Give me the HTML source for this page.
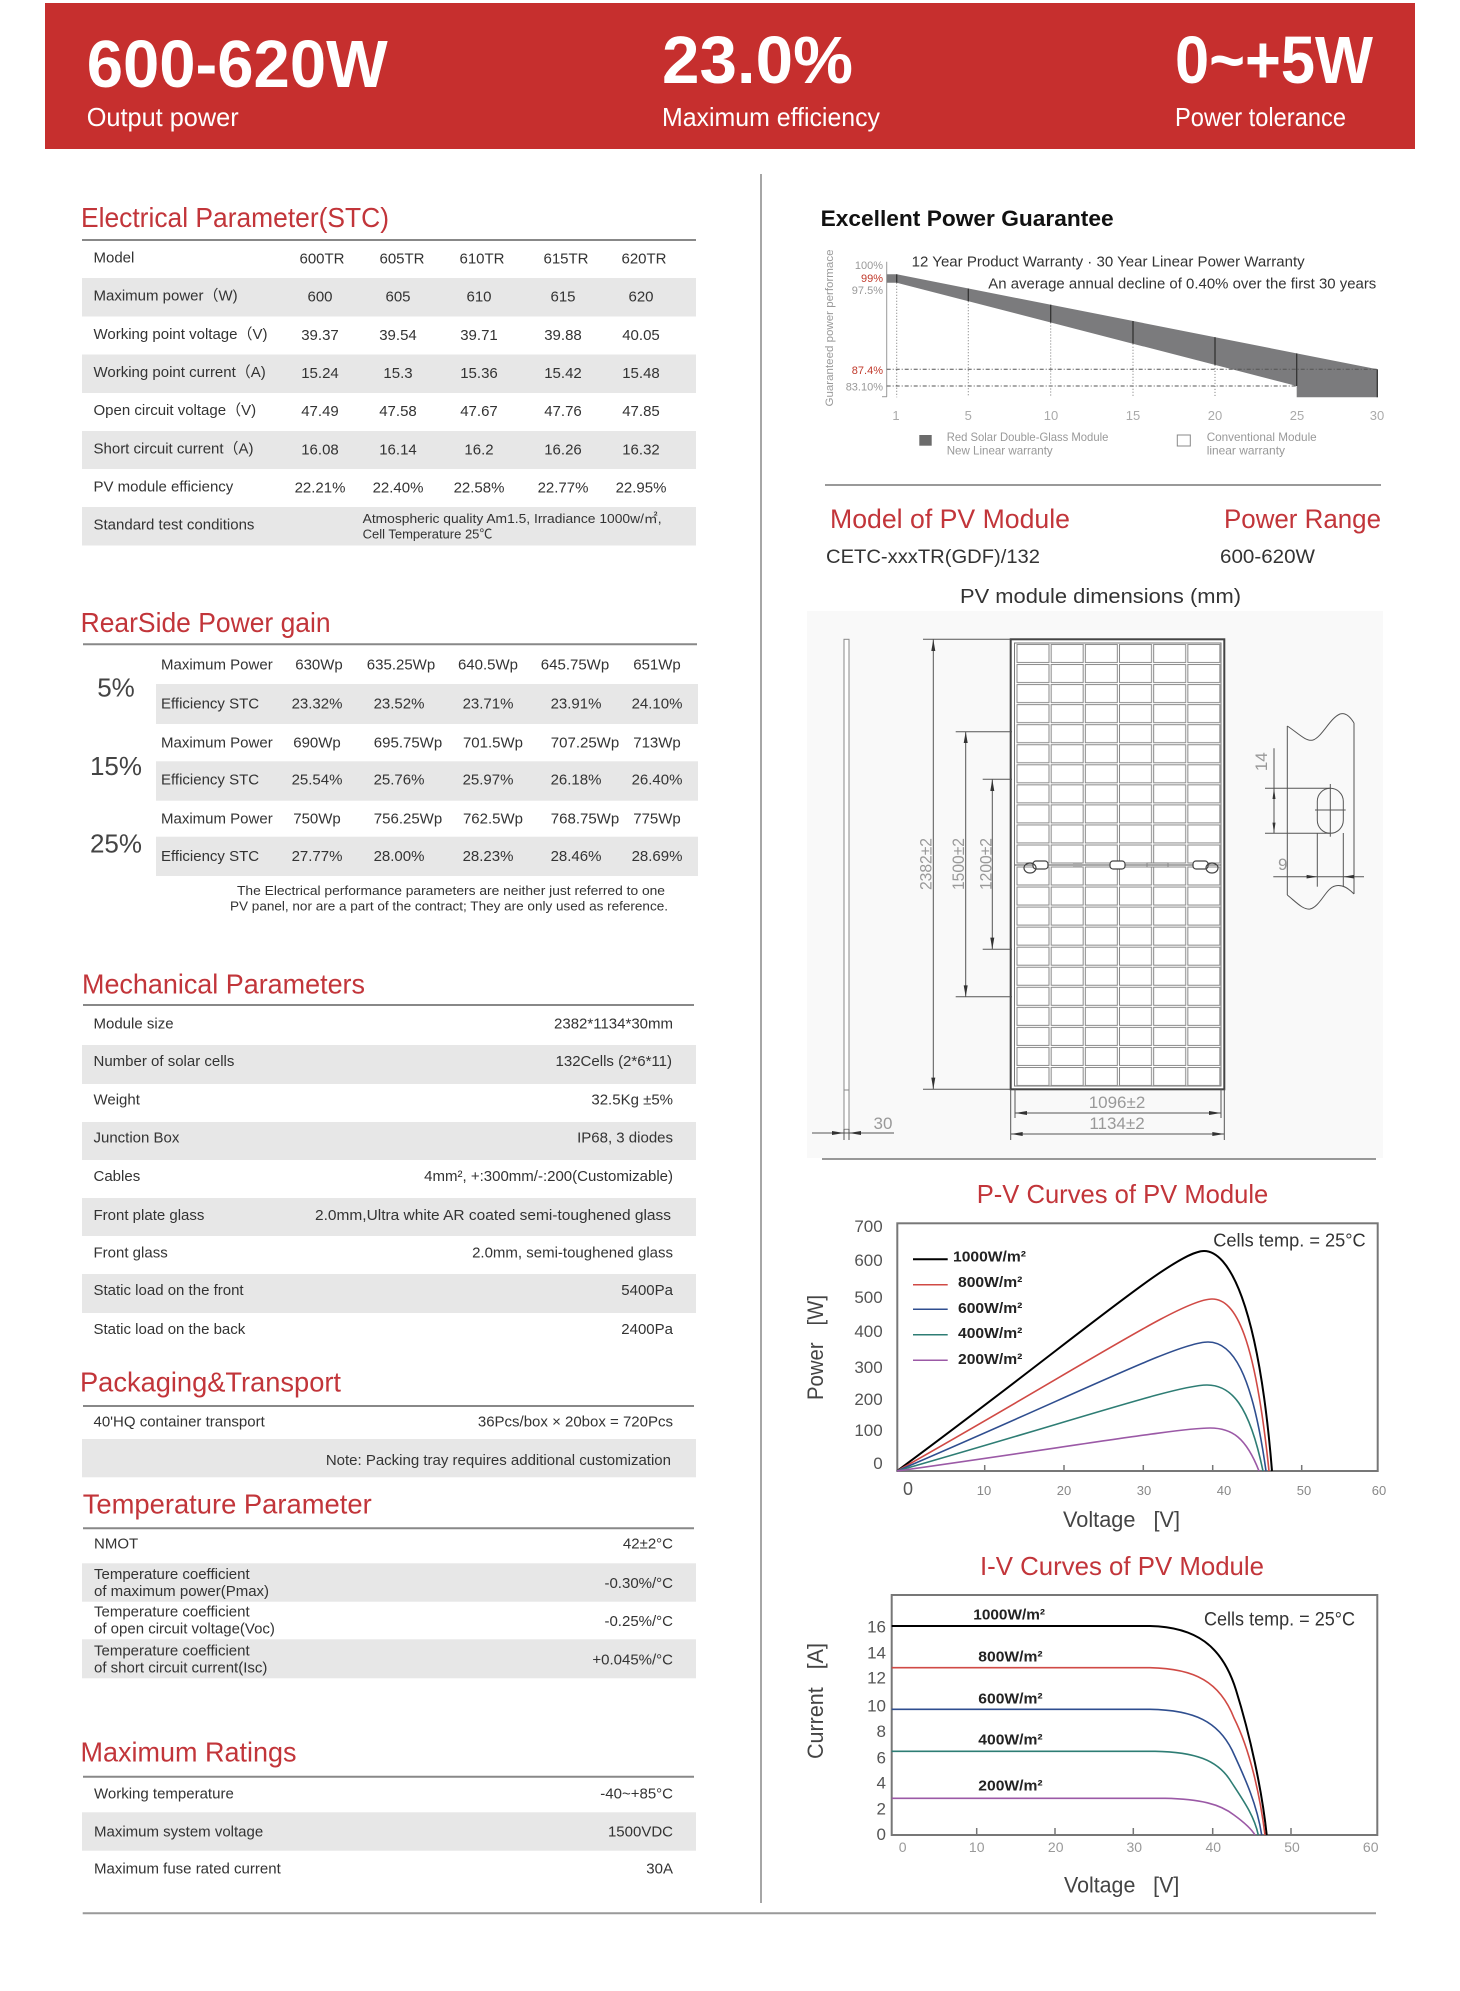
<!DOCTYPE html>
<html>
<head>
<meta charset="utf-8">
<style>
html,body{margin:0;padding:0;background:#fff;}
svg{display:block;}
text{font-family:"Liberation Sans","Noto Sans CJK SC",sans-serif;}
.t{font-size:15px;fill:#333;}
.h{font-size:28px;fill:#c2353a;}
.pc{font-size:26px;fill:#444;}
.yl{font-size:17px;fill:#555;}
.xl{font-size:13px;fill:#888;}
.xs{font-size:14px;fill:#999;font-family:"Liberation Serif",serif;}
.lg{font-size:15px;fill:#222;font-weight:bold;}
.dm{font-size:17px;fill:#999;}
.wy{font-size:11px;fill:#999;}
.wl{font-size:12px;fill:#999;}
</style>
</head>
<body>
<svg xmlns="http://www.w3.org/2000/svg" width="1460" height="1991" viewBox="0 0 1460 1991">
<defs>
<pattern id="cellsA" patternUnits="userSpaceOnUse" x="1016" y="643.5" width="34.17" height="20.05">
<rect x="1" y="1" width="32" height="18" fill="#fff" stroke="#8a8a8a" stroke-width="1"/>
</pattern>
<pattern id="cellsB" patternUnits="userSpaceOnUse" x="1016" y="866" width="34.17" height="20.05">
<rect x="1" y="1" width="32" height="18" fill="#fff" stroke="#8a8a8a" stroke-width="1"/>
</pattern>
</defs>

<!-- Header banner -->
<rect x="45" y="3" width="1370" height="146" fill="#c62f2e"/>
<text x="86.7" y="87" font-size="67" font-weight="bold" fill="#fff" textLength="301" lengthAdjust="spacingAndGlyphs">600-620W</text>
<text x="86.7" y="126" font-size="26" fill="#fff" textLength="152" lengthAdjust="spacingAndGlyphs">Output power</text>
<text x="662" y="83" font-size="67" font-weight="bold" fill="#fff" textLength="191" lengthAdjust="spacingAndGlyphs">23.0%</text>
<text x="662" y="126" font-size="26" fill="#fff" textLength="218" lengthAdjust="spacingAndGlyphs">Maximum efficiency</text>
<text x="1175" y="83" font-size="67" font-weight="bold" fill="#fff" textLength="198" lengthAdjust="spacingAndGlyphs">0~+5W</text>
<text x="1175" y="126" font-size="26" fill="#fff" textLength="171" lengthAdjust="spacingAndGlyphs">Power tolerance</text>

<!-- Vertical divider -->
<line x1="761" y1="174" x2="761" y2="1903" stroke="#888" stroke-width="1.5"/>

<!-- Electrical Parameter -->
<text class="h" x="81" y="227" textLength="308" lengthAdjust="spacingAndGlyphs">Electrical Parameter(STC)</text>
<line x1="82" y1="240" x2="696" y2="240" stroke="#888" stroke-width="2"/>
<rect x="82" y="278" width="614" height="38.5" fill="#e7e7e7"/>
<rect x="82" y="354.5" width="614" height="38.5" fill="#e7e7e7"/>
<rect x="82" y="431" width="614" height="38" fill="#e7e7e7"/>
<rect x="82" y="507" width="614" height="38.5" fill="#e7e7e7"/>
<g class="t">
<text x="93.5" y="262.5">Model</text>
<text x="93.5" y="300.5">Maximum power（W)</text>
<text x="93.5" y="339">Working point voltage（V)</text>
<text x="93.5" y="377">Working point current（A)</text>
<text x="93.5" y="415">Open circuit voltage（V)</text>
<text x="93.5" y="453.5">Short circuit current（A)</text>
<text x="93.5" y="491.5">PV module efficiency</text>
<text x="93.5" y="529.5">Standard test conditions</text>
</g>
<g class="t" text-anchor="middle">
<text x="322" y="263.5">600TR</text><text x="402" y="263.5">605TR</text><text x="482" y="263.5">610TR</text><text x="566" y="263.5">615TR</text><text x="644" y="263.5">620TR</text>
<text x="320" y="301.5">600</text><text x="398" y="301.5">605</text><text x="479" y="301.5">610</text><text x="563" y="301.5">615</text><text x="641" y="301.5">620</text>
<text x="320" y="340">39.37</text><text x="398" y="340">39.54</text><text x="479" y="340">39.71</text><text x="563" y="340">39.88</text><text x="641" y="340">40.05</text>
<text x="320" y="378">15.24</text><text x="398" y="378">15.3</text><text x="479" y="378">15.36</text><text x="563" y="378">15.42</text><text x="641" y="378">15.48</text>
<text x="320" y="416">47.49</text><text x="398" y="416">47.58</text><text x="479" y="416">47.67</text><text x="563" y="416">47.76</text><text x="641" y="416">47.85</text>
<text x="320" y="454.5">16.08</text><text x="398" y="454.5">16.14</text><text x="479" y="454.5">16.2</text><text x="563" y="454.5">16.26</text><text x="641" y="454.5">16.32</text>
<text x="320" y="492.5">22.21%</text><text x="398" y="492.5">22.40%</text><text x="479" y="492.5">22.58%</text><text x="563" y="492.5">22.77%</text><text x="641" y="492.5">22.95%</text>
</g>
<text x="362.6" y="523" font-size="13" fill="#333" textLength="299" lengthAdjust="spacingAndGlyphs">Atmospheric quality Am1.5, Irradiance 1000w/㎡,</text>
<text x="362.6" y="538.6" font-size="13" fill="#333">Cell Temperature 25℃</text>

<!-- RearSide Power gain -->
<text class="h" x="80.6" y="632" textLength="250" lengthAdjust="spacingAndGlyphs">RearSide Power gain</text>
<line x1="83" y1="644.3" x2="697" y2="644.3" stroke="#888" stroke-width="2"/>
<rect x="156" y="684" width="542" height="40" fill="#e7e7e7"/>
<rect x="156" y="761.3" width="542" height="39.4" fill="#e7e7e7"/>
<rect x="156" y="836.7" width="542" height="39.3" fill="#e7e7e7"/>
<g class="pc" text-anchor="middle">
<text x="116" y="696.7">5%</text>
<text x="116" y="775">15%</text>
<text x="116" y="852.3">25%</text>
</g>
<g class="t">
<text x="161" y="669.3">Maximum Power</text>
<text x="161" y="708.3">Efficiency STC</text>
<text x="161" y="747.3">Maximum Power</text>
<text x="161" y="784.3">Efficiency STC</text>
<text x="161" y="823.3">Maximum Power</text>
<text x="161" y="861">Efficiency STC</text>
</g>
<g class="t" text-anchor="middle">
<text x="319" y="669.3">630Wp</text><text x="401" y="669.3">635.25Wp</text><text x="488" y="669.3">640.5Wp</text><text x="575" y="669.3">645.75Wp</text><text x="657" y="669.3">651Wp</text>
<text x="317" y="708.3">23.32%</text><text x="399" y="708.3">23.52%</text><text x="488" y="708.3">23.71%</text><text x="576" y="708.3">23.91%</text><text x="657" y="708.3">24.10%</text>
<text x="317" y="747.3">690Wp</text><text x="408" y="747.3">695.75Wp</text><text x="493" y="747.3">701.5Wp</text><text x="585" y="747.3">707.25Wp</text><text x="657" y="747.3">713Wp</text>
<text x="317" y="784.3">25.54%</text><text x="399" y="784.3">25.76%</text><text x="488" y="784.3">25.97%</text><text x="576" y="784.3">26.18%</text><text x="657" y="784.3">26.40%</text>
<text x="317" y="823.3">750Wp</text><text x="408" y="823.3">756.25Wp</text><text x="493" y="823.3">762.5Wp</text><text x="585" y="823.3">768.75Wp</text><text x="657" y="823.3">775Wp</text>
<text x="317" y="861">27.77%</text><text x="399" y="861">28.00%</text><text x="488" y="861">28.23%</text><text x="576" y="861">28.46%</text><text x="657" y="861">28.69%</text>
</g>
<text x="237" y="895" font-size="13" fill="#333" textLength="428" lengthAdjust="spacingAndGlyphs">The Electrical performance parameters are neither just referred to one</text>
<text x="230" y="910.7" font-size="13" fill="#333" textLength="438" lengthAdjust="spacingAndGlyphs">PV panel, nor are a part of the contract; They are only used as reference.</text>

<!-- Mechanical Parameters -->
<text class="h" x="82" y="993.3" textLength="283" lengthAdjust="spacingAndGlyphs">Mechanical Parameters</text>
<line x1="83" y1="1005" x2="694" y2="1005" stroke="#888" stroke-width="2"/>
<rect x="82" y="1045" width="614" height="39" fill="#e7e7e7"/>
<rect x="82" y="1122" width="614" height="38" fill="#e7e7e7"/>
<rect x="82" y="1198" width="614" height="38" fill="#e7e7e7"/>
<rect x="82" y="1274" width="614" height="39" fill="#e7e7e7"/>
<g class="t">
<text x="93.5" y="1028.3">Module size</text>
<text x="93.5" y="1066">Number of solar cells</text>
<text x="93.5" y="1104.3">Weight</text>
<text x="93.5" y="1142.7">Junction Box</text>
<text x="93.5" y="1181">Cables</text>
<text x="93.5" y="1220">Front plate glass</text>
<text x="93.5" y="1257.7">Front glass</text>
<text x="93.5" y="1295">Static load on the front</text>
<text x="93.5" y="1334">Static load on the back</text>
</g>
<g class="t" text-anchor="end">
<text x="673" y="1028.3">2382*1134*30mm</text>
<text x="672" y="1066">132Cells (2*6*11)</text>
<text x="673" y="1104.3">32.5Kg ±5%</text>
<text x="673" y="1142.7">IP68, 3 diodes</text>
<text x="673" y="1181">4mm², +:300mm/-:200(Customizable)</text>
<text x="671" y="1220" textLength="356" lengthAdjust="spacingAndGlyphs">2.0mm,Ultra white AR coated semi-toughened glass</text>
<text x="673" y="1257.7">2.0mm, semi-toughened glass</text>
<text x="673" y="1295">5400Pa</text>
<text x="673" y="1334">2400Pa</text>
</g>

<!-- Packaging -->
<text class="h" x="80" y="1391.7" textLength="261" lengthAdjust="spacingAndGlyphs">Packaging&amp;Transport</text>
<line x1="83" y1="1406" x2="694" y2="1406" stroke="#888" stroke-width="2"/>
<rect x="82" y="1439" width="614" height="38.3" fill="#e7e7e7"/>
<text class="t" x="93.5" y="1426.7">40'HQ container transport</text>
<text class="t" x="673" y="1426.7" text-anchor="end">36Pcs/box × 20box = 720Pcs</text>
<text class="t" x="671" y="1465" text-anchor="end">Note: Packing tray requires additional customization</text>

<!-- Temperature -->
<text class="h" x="82.7" y="1513.3" textLength="289" lengthAdjust="spacingAndGlyphs">Temperature Parameter</text>
<line x1="83" y1="1528.3" x2="694" y2="1528.3" stroke="#888" stroke-width="2"/>
<rect x="82" y="1563.3" width="614" height="38.4" fill="#e7e7e7"/>
<rect x="82" y="1639.3" width="614" height="39" fill="#e7e7e7"/>
<g class="t">
<text x="94" y="1548.3">NMOT</text>
<text x="94" y="1579">Temperature coefficient</text>
<text x="94" y="1596">of maximum power(Pmax)</text>
<text x="94" y="1616.7">Temperature coefficient</text>
<text x="94" y="1633.3">of open circuit voltage(Voc)</text>
<text x="94" y="1655.7">Temperature coefficient</text>
<text x="94" y="1672.7">of short circuit current(Isc)</text>
</g>
<g class="t" text-anchor="end">
<text x="673" y="1548.3">42±2°C</text>
<text x="673" y="1588">-0.30%/°C</text>
<text x="673" y="1626">-0.25%/°C</text>
<text x="673" y="1664.5">+0.045%/°C</text>
</g>

<!-- Maximum Ratings -->
<text class="h" x="80.5" y="1761.7" textLength="216" lengthAdjust="spacingAndGlyphs">Maximum Ratings</text>
<line x1="83" y1="1776.7" x2="694" y2="1776.7" stroke="#888" stroke-width="2"/>
<rect x="82" y="1812.3" width="614" height="38.4" fill="#e7e7e7"/>
<g class="t">
<text x="94" y="1798.3">Working temperature</text>
<text x="94" y="1836.7">Maximum system voltage</text>
<text x="94" y="1873.3">Maximum fuse rated current</text>
</g>
<g class="t" text-anchor="end">
<text x="673" y="1798.3">-40~+85°C</text>
<text x="673" y="1836.7">1500VDC</text>
<text x="673" y="1873.3">30A</text>
</g>
<line x1="82.7" y1="1913.3" x2="1376" y2="1913.3" stroke="#999" stroke-width="2"/>

<!-- Excellent Power Guarantee -->
<text x="820.6" y="226" font-size="22" font-weight="bold" fill="#111" textLength="293" lengthAdjust="spacingAndGlyphs">Excellent Power Guarantee</text>
<text x="911.7" y="266.7" font-size="15" fill="#333" textLength="393" lengthAdjust="spacingAndGlyphs">12 Year Product Warranty · 30 Year Linear Power Warranty</text>
<text x="988.3" y="288.3" font-size="15" fill="#333" textLength="388" lengthAdjust="spacingAndGlyphs">An average annual decline of 0.40% over the first 30 years</text>
<text class="wy" transform="translate(833,328) rotate(-90)" text-anchor="middle" textLength="157" lengthAdjust="spacingAndGlyphs">Guaranteed power performace</text>
<line x1="886.7" y1="261.7" x2="886.7" y2="396.7" stroke="#999" stroke-width="1"/>
<line x1="882" y1="396.7" x2="887" y2="396.7" stroke="#999" stroke-width="1"/>
<g class="wy" text-anchor="end">
<text x="883" y="269">100%</text>
<text x="883" y="282" fill="#c0392b">99%</text>
<text x="883" y="294">97.5%</text>
<text x="883" y="374" fill="#c0392b">87.4%</text>
<text x="883" y="390.5">83.10%</text>
</g>
<polygon points="886.7,274.3 896.7,274.3 1377.3,369.3 1377.3,397.3 1296.7,397.3 1296.7,386 896.7,282.7 886.7,282.7" fill="#7b7b7d"/>
<g stroke="#333" stroke-width="1.3">
<line x1="896.7" y1="274.3" x2="896.7" y2="282.7"/>
<line x1="968.3" y1="288.5" x2="968.3" y2="301.2"/>
<line x1="1050.7" y1="304.7" x2="1050.7" y2="322.5"/>
<line x1="1133" y1="321" x2="1133" y2="343.7"/>
<line x1="1215" y1="337.2" x2="1215" y2="364.9"/>
<line x1="1296.7" y1="353.4" x2="1296.7" y2="386"/>
<line x1="1377.3" y1="369.3" x2="1377.3" y2="397.3"/>
</g>
<g stroke="#777" stroke-width="1" stroke-dasharray="1,2">
<line x1="896.7" y1="282.7" x2="896.7" y2="397.3"/>
<line x1="968.3" y1="301.2" x2="968.3" y2="397.3"/>
<line x1="1050.7" y1="322.5" x2="1050.7" y2="397.3"/>
<line x1="1133" y1="343.7" x2="1133" y2="397.3"/>
<line x1="1215" y1="364.9" x2="1215" y2="397.3"/>
</g>
<g stroke="#555" stroke-width="1" stroke-dasharray="4,2,1,2">
<line x1="886.7" y1="369.3" x2="1377.3" y2="369.3"/>
<line x1="886.7" y1="386" x2="1296.7" y2="386"/>
</g>
<g font-size="13" fill="#aaa" text-anchor="middle">
<text x="896" y="420">1</text><text x="968.3" y="420">5</text><text x="1051" y="420">10</text><text x="1133" y="420">15</text><text x="1215" y="420">20</text><text x="1297" y="420">25</text><text x="1377" y="420">30</text>
</g>
<rect x="919.3" y="435" width="12.4" height="10.7" fill="#6b6b6b"/>
<text class="wl" x="946.7" y="441" textLength="161.7" lengthAdjust="spacingAndGlyphs">Red Solar Double-Glass Module</text>
<text class="wl" x="946.7" y="454.3" textLength="106" lengthAdjust="spacingAndGlyphs">New Linear warranty</text>
<rect x="1177.3" y="435" width="13" height="11" fill="none" stroke="#888" stroke-width="1"/>
<text class="wl" x="1206.7" y="441" textLength="110" lengthAdjust="spacingAndGlyphs">Conventional Module</text>
<text class="wl" x="1206.7" y="454.3" textLength="78.3" lengthAdjust="spacingAndGlyphs">linear warranty</text>
<line x1="825" y1="485" x2="1381" y2="485" stroke="#999" stroke-width="2"/>

<!-- Model of PV Module -->
<text x="830" y="528" font-size="27" fill="#c2353a" textLength="240" lengthAdjust="spacingAndGlyphs">Model of PV Module</text>
<text x="1224" y="528" font-size="27" fill="#c2353a" textLength="157" lengthAdjust="spacingAndGlyphs">Power Range</text>
<text x="826" y="563" font-size="19" fill="#333" textLength="214" lengthAdjust="spacingAndGlyphs">CETC-xxxTR(GDF)/132</text>
<text x="1220" y="563" font-size="19" fill="#333" textLength="95" lengthAdjust="spacingAndGlyphs">600-620W</text>
<text x="960" y="603" font-size="20" fill="#333" textLength="281" lengthAdjust="spacingAndGlyphs">PV module dimensions (mm)</text>

<!-- Drawing -->
<rect x="807" y="611" width="576" height="547" fill="#f9f9f9"/>
<rect x="844" y="639.3" width="5" height="490" fill="#fff" stroke="#888" stroke-width="1"/>
<line x1="844" y1="1090" x2="849" y2="1090" stroke="#888" stroke-width="1"/>
<rect x="1010.7" y="639.3" width="213.6" height="450" fill="#fff" stroke="#444" stroke-width="2"/>
<rect x="1014.5" y="643" width="206.5" height="443" fill="none" stroke="#777" stroke-width="1"/>
<rect x="1016" y="643.5" width="205" height="220.5" fill="url(#cellsA)"/>
<rect x="1016" y="866" width="205" height="220.5" fill="url(#cellsB)"/>
<line x1="1015" y1="865" x2="1221" y2="865" stroke="#555" stroke-width="1"/>
<g fill="#fff" stroke="#444" stroke-width="1.2">
<rect x="1033" y="861" width="15" height="8" rx="3"/>
<rect x="1110" y="861" width="15" height="8" rx="3"/>
<rect x="1193" y="861" width="15" height="8" rx="3"/>
<ellipse cx="1030" cy="868" rx="6" ry="5" fill="none"/>
<ellipse cx="1212" cy="868" rx="6" ry="5" fill="none"/>
</g>
<rect x="1073" y="863" width="9" height="4" fill="#aaa"/>
<rect x="1147" y="863" width="21" height="4" fill="none" stroke="#888" stroke-width="1"/>
<g stroke="#555" stroke-width="1">
<line x1="923" y1="639.3" x2="1010.7" y2="639.3"/>
<line x1="923" y1="1089.3" x2="1010.7" y2="1089.3"/>
<line x1="933.3" y1="639.3" x2="933.3" y2="1089.3"/>
<line x1="955.7" y1="731.7" x2="1012" y2="731.7"/>
<line x1="955.7" y1="996.7" x2="1012" y2="996.7"/>
<line x1="965.7" y1="731.7" x2="965.7" y2="996.7"/>
<line x1="982.7" y1="779.3" x2="1012" y2="779.3"/>
<line x1="982.7" y1="949.3" x2="1012" y2="949.3"/>
<line x1="992.3" y1="779.3" x2="992.3" y2="949.3"/>
<line x1="1015" y1="1089" x2="1015" y2="1118"/>
<line x1="1221" y1="1089" x2="1221" y2="1118"/>
<line x1="1010.7" y1="1089" x2="1010.7" y2="1140"/>
<line x1="1224.3" y1="1089" x2="1224.3" y2="1140"/>
<line x1="1015" y1="1113" x2="1221" y2="1113"/>
<line x1="1010.7" y1="1134" x2="1224.3" y2="1134"/>
<line x1="844" y1="1129" x2="844" y2="1140"/>
<line x1="849" y1="1129" x2="849" y2="1140"/>
<line x1="812" y1="1133" x2="894" y2="1133"/>
</g>
<g fill="#333">
<polygon points="933.3,639.3 931.3,651 935.3,651"/>
<polygon points="933.3,1089.3 931.3,1077.6 935.3,1077.6"/>
<polygon points="965.7,731.7 963.7,743 967.7,743"/>
<polygon points="965.7,996.7 963.7,985.4 967.7,985.4"/>
<polygon points="992.3,779.3 990.3,791 994.3,791"/>
<polygon points="992.3,949.3 990.3,937.6 994.3,937.6"/>
<polygon points="1015,1113 1027,1111 1027,1115"/>
<polygon points="1221,1113 1209,1111 1209,1115"/>
<polygon points="1010.7,1134 1022.7,1132 1022.7,1136"/>
<polygon points="1224.3,1134 1212.3,1132 1212.3,1136"/>
<polygon points="844,1133 832,1131 832,1135"/>
<polygon points="849,1133 861,1131 861,1135"/>
</g>
<g class="dm" text-anchor="middle">
<text transform="translate(931.5,864) rotate(-90)" textLength="52" lengthAdjust="spacingAndGlyphs">2382±2</text>
<text transform="translate(964,864) rotate(-90)" textLength="52" lengthAdjust="spacingAndGlyphs">1500±2</text>
<text transform="translate(991.7,864) rotate(-90)" textLength="52" lengthAdjust="spacingAndGlyphs">1200±2</text>
<text x="1117" y="1108">1096±2</text>
<text x="1117" y="1129">1134±2</text>
<text x="883" y="1129">30</text>
</g>
<!-- Frame detail -->
<g fill="none" stroke="#555" stroke-width="1">
<path d="M1287.3,726 C1298,733 1306,742 1313,740 C1322,737 1330,718 1340,714 C1346,712 1351,718 1354,723"/>
<path d="M1287.3,895 C1296,902 1303,910 1310,909 C1320,907 1326,888 1335,886 C1343,884 1349,889 1354,894"/>
<line x1="1287.3" y1="726" x2="1287.3" y2="895"/>
<line x1="1354" y1="723" x2="1354" y2="894"/>
<rect x="1317.3" y="788.3" width="26" height="45" rx="13" ry="13"/>
<line x1="1315" y1="810" x2="1345.7" y2="810"/>
<line x1="1330.3" y1="784" x2="1330.3" y2="836.7"/>
<line x1="1265" y1="788.3" x2="1330" y2="788.3"/>
<line x1="1265" y1="833.3" x2="1330" y2="833.3"/>
<line x1="1274" y1="748.3" x2="1274" y2="833.3"/>
<line x1="1317.3" y1="833" x2="1317.3" y2="886.7"/>
<line x1="1343.3" y1="833" x2="1343.3" y2="886.7"/>
<line x1="1273.3" y1="876.7" x2="1364" y2="876.7"/>
</g>
<g fill="#333">
<polygon points="1274,788.3 1272.5,799 1275.5,799"/>
<polygon points="1274,833.3 1272.5,822.6 1275.5,822.6"/>
<polygon points="1317.3,876.7 1306.6,874.9 1306.6,878.5"/>
<polygon points="1343.3,876.7 1354,874.9 1354,878.5"/>
</g>
<text class="dm" transform="translate(1267,761.7) rotate(-90)" text-anchor="middle">14</text>
<text class="dm" x="1282.7" y="870" text-anchor="middle">9</text>
<line x1="822" y1="1159" x2="1376" y2="1159" stroke="#999" stroke-width="2"/>

<!-- P-V chart -->
<text x="976.7" y="1203" font-size="26" fill="#c2353a" textLength="291.6" lengthAdjust="spacingAndGlyphs">P-V Curves of PV Module</text>
<rect x="897.3" y="1223.3" width="480.4" height="247.7" fill="none" stroke="#777" stroke-width="2"/>
<g stroke="#777" stroke-width="1.5">
<line x1="984.7" y1="1471" x2="984.7" y2="1465"/>
<line x1="1064" y1="1471" x2="1064" y2="1465"/>
<line x1="1143.3" y1="1471" x2="1143.3" y2="1465"/>
<line x1="1212.7" y1="1471" x2="1212.7" y2="1465"/>
<line x1="1301.7" y1="1471" x2="1301.7" y2="1465"/>
</g>
<g class="yl" text-anchor="end">
<text x="882.7" y="1232">700</text><text x="882.7" y="1266">600</text><text x="882.7" y="1303">500</text><text x="882.7" y="1337">400</text><text x="882.7" y="1373">300</text><text x="882.7" y="1405">200</text><text x="882.7" y="1436">100</text><text x="882.7" y="1469">0</text>
</g>
<text x="908" y="1495" font-size="18" fill="#555" text-anchor="middle">0</text>
<g class="xl" text-anchor="middle">
<text x="984" y="1495">10</text><text x="1064" y="1495">20</text><text x="1144" y="1495">30</text><text x="1224" y="1495">40</text><text x="1304" y="1495">50</text><text x="1379" y="1495">60</text>
</g>
<text transform="translate(823,1347.5) rotate(-90)" font-size="22" fill="#444" text-anchor="middle" textLength="105" lengthAdjust="spacingAndGlyphs" xml:space="preserve">Power   [W]</text>
<text x="1063" y="1527" font-size="22" fill="#444" textLength="117" lengthAdjust="spacingAndGlyphs" xml:space="preserve">Voltage   [V]</text>
<text x="1213.3" y="1246.7" font-size="18" fill="#333" textLength="152.4" lengthAdjust="spacingAndGlyphs">Cells temp. = 25°C</text>
<g stroke-width="1.5">
<line x1="913" y1="1259.3" x2="947.7" y2="1259.3" stroke="#000" stroke-width="2"/>
<line x1="913" y1="1284.7" x2="947.7" y2="1284.7" stroke="#d04a45"/>
<line x1="913" y1="1309.3" x2="947.7" y2="1309.3" stroke="#2f4e8f"/>
<line x1="913" y1="1334.7" x2="947.7" y2="1334.7" stroke="#2e7d74"/>
<line x1="913" y1="1360.3" x2="947.7" y2="1360.3" stroke="#9b59a6"/>
</g>
<g class="lg">
<text x="953" y="1261.5" textLength="73" lengthAdjust="spacingAndGlyphs">1000W/m²</text>
<text x="958" y="1287" textLength="64.3" lengthAdjust="spacingAndGlyphs">800W/m²</text>
<text x="958" y="1313" textLength="64.3" lengthAdjust="spacingAndGlyphs">600W/m²</text>
<text x="958" y="1338" textLength="64.3" lengthAdjust="spacingAndGlyphs">400W/m²</text>
<text x="958" y="1364" textLength="64.3" lengthAdjust="spacingAndGlyphs">200W/m²</text>
</g>
<g fill="none" stroke-width="1.6">
<path d="M897,1471 C1080,1336 1175,1251 1204,1251 C1228,1251 1258,1300 1272,1471" stroke="#000" stroke-width="2"/>
<path d="M897,1471 C1084.7,1365.4 1182.4,1299 1212,1299 C1236,1299 1255,1337 1269,1471" stroke="#d04a45"/>
<path d="M897,1471 C1082.4,1391.8 1178.8,1342 1208,1342 C1232,1342 1252,1370.8 1266,1471" stroke="#2f4e8f"/>
<path d="M897,1471 C1081.8,1418.2 1177.9,1385 1207,1385 C1231,1385 1249,1404 1263,1471" stroke="#2e7d74"/>
<path d="M897,1471 C1083.5,1444.6 1180.6,1428 1210,1428 C1232,1428 1246,1437.6 1259,1471" stroke="#9b59a6"/>
</g>

<!-- I-V chart -->
<text x="980" y="1575" font-size="26" fill="#c2353a" textLength="284" lengthAdjust="spacingAndGlyphs">I-V Curves of PV Module</text>
<rect x="891.7" y="1595" width="485.6" height="240" fill="none" stroke="#777" stroke-width="2"/>
<g stroke="#777" stroke-width="1.5">
<line x1="976.7" y1="1835" x2="976.7" y2="1828"/>
<line x1="1055" y1="1835" x2="1055" y2="1828"/>
<line x1="1133.3" y1="1835" x2="1133.3" y2="1828"/>
<line x1="1212.7" y1="1835" x2="1212.7" y2="1828"/>
<line x1="1291" y1="1835" x2="1291" y2="1828"/>
</g>
<g class="yl" text-anchor="end">
<text x="886" y="1632.7">16</text><text x="886" y="1658.3">14</text><text x="886" y="1683.7">12</text><text x="886" y="1711.7">10</text><text x="886" y="1737">8</text><text x="886" y="1763.3">6</text><text x="886" y="1788.7">4</text><text x="886" y="1814.3">2</text><text x="886" y="1840">0</text>
</g>
<g class="xs" text-anchor="middle">
<text x="902.7" y="1852">0</text><text x="976.7" y="1852">10</text><text x="1055.7" y="1852">20</text><text x="1134.3" y="1852">30</text><text x="1213.3" y="1852">40</text><text x="1292" y="1852">50</text><text x="1370.7" y="1852">60</text>
</g>
<text transform="translate(823,1701) rotate(-90)" font-size="22" fill="#444" text-anchor="middle" textLength="116" lengthAdjust="spacingAndGlyphs" xml:space="preserve">Current   [A]</text>
<text x="1064" y="1892.3" font-size="22" fill="#444" textLength="115.3" lengthAdjust="spacingAndGlyphs" xml:space="preserve">Voltage   [V]</text>
<text x="1204" y="1625.7" font-size="19" fill="#333" textLength="151" lengthAdjust="spacingAndGlyphs">Cells temp. = 25°C</text>
<g class="lg">
<text x="973.3" y="1619.3" textLength="71.7" lengthAdjust="spacingAndGlyphs">1000W/m²</text>
<text x="978.3" y="1661.7" textLength="64.3" lengthAdjust="spacingAndGlyphs">800W/m²</text>
<text x="978.3" y="1703.3" textLength="64.3" lengthAdjust="spacingAndGlyphs">600W/m²</text>
<text x="978.3" y="1744.3" textLength="64.3" lengthAdjust="spacingAndGlyphs">400W/m²</text>
<text x="978.3" y="1790.7" textLength="64.3" lengthAdjust="spacingAndGlyphs">200W/m²</text>
</g>
<g fill="none" stroke-width="1.6">
<path d="M891.7,1626 H1150 C1195,1627 1222,1645 1236,1690 C1250,1735 1262,1790 1266.7,1835" stroke="#000" stroke-width="2"/>
<path d="M891.7,1667.7 H1150 C1195,1668.5 1220,1682 1234,1718 C1250,1750 1260,1795 1265,1835" stroke="#d04a45"/>
<path d="M891.7,1709.3 H1150 C1195,1710 1218,1722 1232,1750 C1246,1780 1257,1805 1261.7,1835" stroke="#2f4e8f"/>
<path d="M891.7,1751.3 H1155 C1195,1752 1217,1760 1230,1780 C1243,1800 1254,1815 1258.3,1835" stroke="#2e7d74"/>
<path d="M891.7,1798.3 H1165 C1200,1799 1220,1804 1234,1815 C1245,1823 1252,1830 1255,1835" stroke="#9b59a6"/>
</g>
</svg>
</body>
</html>
